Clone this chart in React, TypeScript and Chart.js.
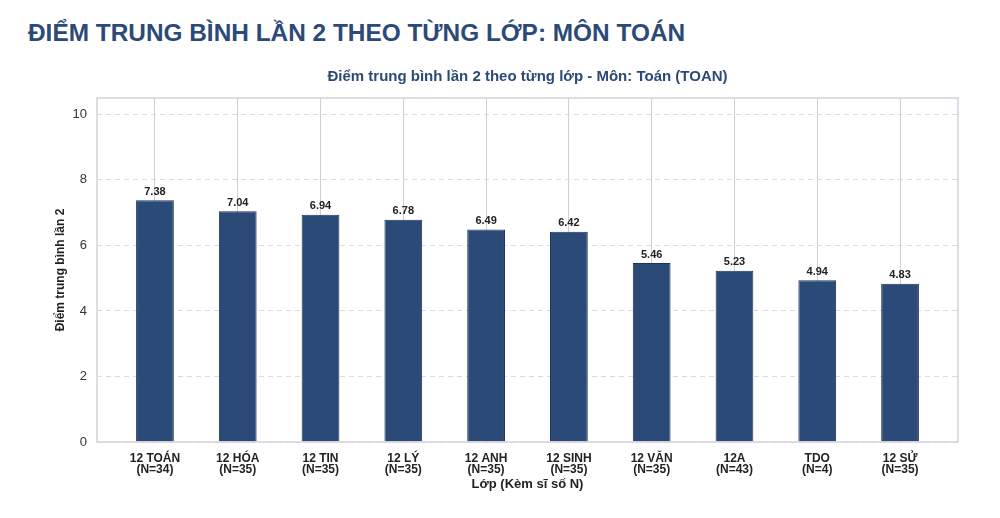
import { useEffect, useRef } from "react";
import { Chart, registerables } from "chart.js";
import type { ChartConfiguration, Plugin } from "chart.js";

Chart.register(...registerables);

// ---- data ----
const CLASS_NAMES = ["12 TOÁN", "12 HÓA", "12 TIN", "12 LÝ", "12 ANH", "12 SINH", "12 VĂN", "12A", "TDO", "12 SỬ"];
const CLASS_SIZES = [34, 35, 35, 35, 35, 35, 35, 43, 4, 35];
const AVG_SCORES = [7.38, 7.04, 6.94, 6.78, 6.49, 6.42, 5.46, 5.23, 4.94, 4.83];
const Y_TICKS = [0, 2, 4, 6, 8, 10];

const FONT = "'Liberation Sans', Arial, Helvetica, sans-serif";
const NAVY = "#2c4a78";

// frame around the plot area
const framePlugin: Plugin<"bar"> = {
  id: "frame",
  afterDatasetsDraw(chart) {
    const { ctx, chartArea: a } = chart;
    ctx.save();
    ctx.strokeStyle = "#d3d2dc";
    ctx.lineWidth = 1.5;
    ctx.strokeRect(a.left, a.top, a.right - a.left, a.bottom - a.top);
    ctx.restore();
  },
};

// value labels above each bar
const valueLabels: Plugin<"bar"> = {
  id: "valueLabels",
  afterDatasetsDraw(chart) {
    const { ctx } = chart;
    const meta = chart.getDatasetMeta(0);
    ctx.save();
    ctx.font = `bold 11px ${FONT}`;
    ctx.fillStyle = "#222";
    ctx.textAlign = "center";
    ctx.textBaseline = "bottom";
    meta.data.forEach((bar, i) => {
      ctx.fillText(AVG_SCORES[i].toFixed(2), bar.x, bar.y - 3);
    });
    ctx.restore();
  },
};

const createConfig = (): ChartConfiguration<"bar"> => ({
  type: "bar",
  data: {
    datasets: [
      {
        data: AVG_SCORES.map((v, i) => ({ x: i, y: v })),
        backgroundColor: NAVY,
        borderColor: "#1d3355",
        borderWidth: 1,
        barPercentage: 0.57,
        categoryPercentage: 0.8,
      },
    ],
  },
  options: {
    animation: false,
    responsive: false,
    layout: { padding: { top: 68, left: 49, right: 42, bottom: 26 } },
    plugins: {
      legend: { display: false },
      tooltip: { enabled: false },
      title: {
        display: true,
        fullSize: false,
        text: "Điểm trung bình lần 2 theo từng lớp - Môn: Toán (TOAN)",
        color: NAVY,
        font: { family: FONT, size: 15, weight: "bold", lineHeight: 1.2 },
        padding: { top: 0, bottom: 12 },
      },
    },
    scales: {
      x: {
        type: "linear",
        offset: false,
        min: -0.7,
        max: CLASS_NAMES.length - 0.3,
        afterBuildTicks: (s) => {
          s.ticks = CLASS_NAMES.map((_, i) => ({ value: i }));
        },
        afterFit: (s) => {
          s.height = 50;
        },
        border: { display: false },
        grid: { color: "#cfcdd8", lineWidth: 1, drawTicks: false, offset: false },
        ticks: {
          padding: 11,
          maxRotation: 0,
          autoSkip: false,
          color: "#222",
          font: { family: FONT, size: 12, weight: "bold", lineHeight: 0.95 },
          callback: (v) => {
            const i = Number(v);
            return [CLASS_NAMES[i], `(N=${CLASS_SIZES[i]})`];
          },
        },
        title: {
          display: true,
          text: "Lớp (Kèm sĩ số N)",
          color: "#222",
          font: { family: FONT, size: 13, weight: "bold", lineHeight: 1.2 },
          padding: { top: 2, bottom: 0 },
        },
      },
      y: {
        min: 0,
        max: 10.5,
        afterBuildTicks: (s) => {
          s.ticks = Y_TICKS.map((v) => ({ value: v }));
        },
        afterFit: (s) => {
          s.width = 48;
        },
        border: { display: false, dash: [5, 4] },
        grid: { color: "#dcdbe3", lineWidth: 1, drawTicks: false },
        ticks: {
          padding: 10,
          color: "#333",
          font: { family: FONT, size: 13 },
        },
        title: {
          display: true,
          text: "Điểm trung bình lần 2",
          color: "#222",
          font: { family: FONT, size: 12, weight: "bold", lineHeight: 1.2 },
          padding: { top: 4, bottom: 0 },
        },
      },
    },
  },
  plugins: [framePlugin, valueLabels],
});

export default function App() {
  const canvasRef = useRef<HTMLCanvasElement>(null);
  const chartRef = useRef<Chart<"bar"> | null>(null);

  useEffect(() => {
    document.body.style.margin = "0";
    if (canvasRef.current) {
      chartRef.current = new Chart(canvasRef.current, createConfig());
    }
    return () => {
      chartRef.current?.destroy();
      chartRef.current = null;
    };
  }, []);

  return (
    <div style={{ position: "relative", width: 1000, height: 518, background: "#fff", fontFamily: FONT }}>
      <div
        style={{
          position: "absolute",
          left: 28,
          top: 19,
          fontSize: 24.4,
          fontWeight: 700,
          color: NAVY,
          whiteSpace: "nowrap",
        }}
      >
        ĐIỂM TRUNG BÌNH LẦN 2 THEO TỪNG LỚP: MÔN TOÁN
      </div>
      <canvas ref={canvasRef} width={1000} height={518} style={{ position: "absolute", left: 0, top: 0 }} />
    </div>
  );
}
